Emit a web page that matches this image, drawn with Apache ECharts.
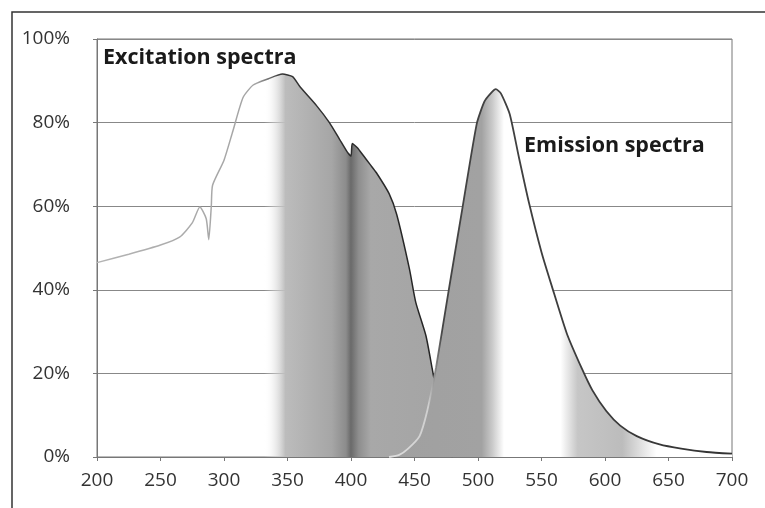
<!DOCTYPE html>
<html>
<head>
<meta charset="utf-8">
<script src="https://cdn.jsdelivr.net/npm/echarts@6/dist/echarts.min.js"></script>
<style>
  html, body { margin: 0; padding: 0; background: #fff; }
  #chart { width: 765px; height: 508px; }
</style>
</head>
<body>
<div id="chart"></div>
<script>
// wavelength (nm) / relative intensity (%)
const excitationNm = [200, 225, 250, 265, 275, 281, 286, 288, 290, 291, 300, 307, 315, 323, 335, 346, 354, 360, 373, 383, 391, 397, 400, 401, 405, 410, 415, 420, 430, 436, 446, 451, 459, 464, 470, 475, 480]
const excitationPct = [46.5, 48.5, 50.7, 52.6, 56, 59.8, 57, 52, 60, 65, 71, 78, 86, 89, 90.5, 91.6, 91, 88.5, 84, 80, 76, 73, 72, 75, 74, 72, 70, 68, 63, 58, 45, 37, 29, 21, 11, 4, 0]

const emissionNm = [430, 438, 445, 454, 460, 467, 477, 488, 499, 505, 510, 514, 518, 525, 532, 540, 550, 558, 570, 582, 590, 601, 612, 625, 643, 660, 680, 700]
const emissionPct = [0, 0.5, 2, 5, 11, 21.5, 40, 60, 79.7, 85, 87, 88, 87, 82, 72, 61, 49, 41, 29.5, 21, 16, 11, 7.5, 5, 3, 2, 1.2, 0.8]

const xTicks = { min: 200, max: 700, step: 50 }
const yTicks = { min: 0, max: 100, step: 20 }

function pairs (xs, ys) {
  return xs.map((x, i) => [x, ys[i]])
}

function hGrad (stops) {
  return new echarts.graphic.LinearGradient(0, 0, 1, 0,
    stops.map(s => ({ offset: s[0], color: s[1] })))
}

const labelFont = '"Open Sans", sans-serif'
const titleFont = 'bold 21.5px "Open Sans", sans-serif'

const chart = echarts.init(document.getElementById('chart'))
chart.setOption({
  animation: false,
  backgroundColor: '#fff',
  grid: {
    left: 97,
    right: 33,
    top: 39,
    bottom: 51,
    show: true,
    borderColor: '#777',
    borderWidth: 1
  },
  xAxis: {
    type: 'value',
    min: xTicks.min,
    max: xTicks.max,
    interval: xTicks.step,
    axisLine: { show: true, lineStyle: { color: '#777' } },
    axisTick: { show: true, length: 4, lineStyle: { color: '#777' } },
    splitLine: { show: false },
    axisLabel: { color: '#333', fontSize: 19, fontFamily: labelFont, margin: 14 }
  },
  yAxis: {
    type: 'value',
    min: yTicks.min,
    max: yTicks.max,
    interval: yTicks.step,
    axisLine: { show: true, lineStyle: { color: '#777' } },
    axisTick: { show: true, length: 4, lineStyle: { color: '#777' } },
    splitLine: { show: true, lineStyle: { color: '#888', width: 1 } },
    axisLabel: {
      color: '#333',
      fontSize: 19,
      fontFamily: labelFont,
      margin: 27,
      formatter: '{value}%'
    }
  },
  series: [
    {
      name: 'Excitation spectra',
      type: 'line',
      data: pairs(excitationNm, excitationPct),
      showSymbol: false,
      smooth: 0.2,
      z: 2,
      lineStyle: {
        width: 1.5,
        color: hGrad([[0, '#b4b4b4'], [0.45, '#a4a4a4'], [0.52, '#333'], [1, '#222']])
      },
      areaStyle: {
        opacity: 1,
        color: hGrad([
          [0, 'rgba(255,255,255,0)'],
          [0.47, 'rgba(255,255,255,0)'],
          [0.53, '#bcbcbc'],
          [0.66, '#a6a6a6'],
          [0.70, '#8c8c8c'],
          [0.714, '#6a6a6a'],
          [0.736, '#8e8e8e'],
          [0.77, '#a8a8a8'],
          [1, '#a4a4a4']
        ])
      }
    },
    {
      name: 'Emission spectra',
      type: 'line',
      data: pairs(emissionNm, emissionPct),
      showSymbol: false,
      smooth: 0.2,
      z: 3,
      lineStyle: {
        width: 1.8,
        color: hGrad([[0, '#e0e0e0'], [0.12, '#d0d0d0'], [0.16, '#444'], [1, '#333']])
      },
      areaStyle: {
        opacity: 1,
        color: hGrad([
          [0, '#a0a0a0'],
          [0.27, '#a2a2a2'],
          [0.30, '#c8c8c8'],
          [0.335, '#ffffff'],
          [0.50, '#ffffff'],
          [0.55, '#c6c6c6'],
          [0.68, '#bcbcbc'],
          [0.78, '#ffffff'],
          [1, '#ffffff']
        ])
      }
    }
  ],
  graphic: [
    {
      type: 'rect',
      shape: { x: 12, y: 12, width: 800, height: 600 },
      style: { fill: 'none', stroke: '#333', lineWidth: 1.5 },
      silent: true
    },
    {
      type: 'text',
      left: 103,
      top: 47,
      style: { text: 'Excitation spectra', font: titleFont, fill: '#1a1a1a' }
    },
    {
      type: 'text',
      left: 524,
      top: 135,
      style: { text: 'Emission spectra', font: titleFont, fill: '#1a1a1a' }
    }
  ]
})
</script>
</body>
</html>
